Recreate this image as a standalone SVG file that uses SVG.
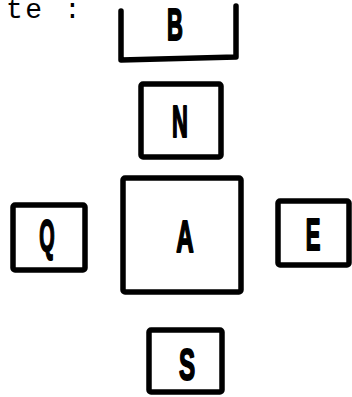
<svg xmlns="http://www.w3.org/2000/svg" width="352" height="397" viewBox="0 0 352 397">
<style>
.box{fill:none;stroke:#000;stroke-width:5.5;stroke-linejoin:round;stroke-linecap:round}
.lbl{font-family:"Liberation Sans",Arial,sans-serif;font-weight:bold;font-size:44px;text-anchor:middle;fill:#000;stroke:#000;stroke-width:2;stroke-linejoin:round}
.cap{font-family:"Liberation Mono","Courier New",monospace;font-size:28px;letter-spacing:2.5px;fill:#000}
</style>
<rect width="352" height="397" fill="#fff"/>
<text class="cap" x="6" y="18">te :</text>
<g id="B">
<path class="box" d="M121,11 L121,60 L236,57 L236,6"/>
<text class="lbl" transform="translate(175,40) scale(0.5,1.02)">B</text>
</g>
<g id="N">
<rect class="box" x="141" y="84" width="80" height="73" rx="2"/>
<text class="lbl" transform="translate(180,137) scale(0.5,1.02)">N</text>
</g>
<g id="A">
<rect class="box" x="123" y="178" width="118" height="114" rx="2"/>
<text class="lbl" transform="translate(185,252) scale(0.55,1.02)">A</text>
</g>
<g id="Q">
<rect class="box" x="13" y="205" width="72" height="65" rx="2"/>
<text class="lbl" transform="translate(47,251) scale(0.45,1.02)">Q</text>
</g>
<g id="E">
<rect class="box" x="278" y="201" width="71" height="64" rx="2"/>
<text class="lbl" transform="translate(313,250) scale(0.5,1.02)">E</text>
</g>
<g id="S">
<rect class="box" x="149" y="330" width="73" height="62" rx="2"/>
<text class="lbl" transform="translate(187,380) scale(0.55,1.02)">S</text>
</g>
<g id="connectors"></g>
</svg>
